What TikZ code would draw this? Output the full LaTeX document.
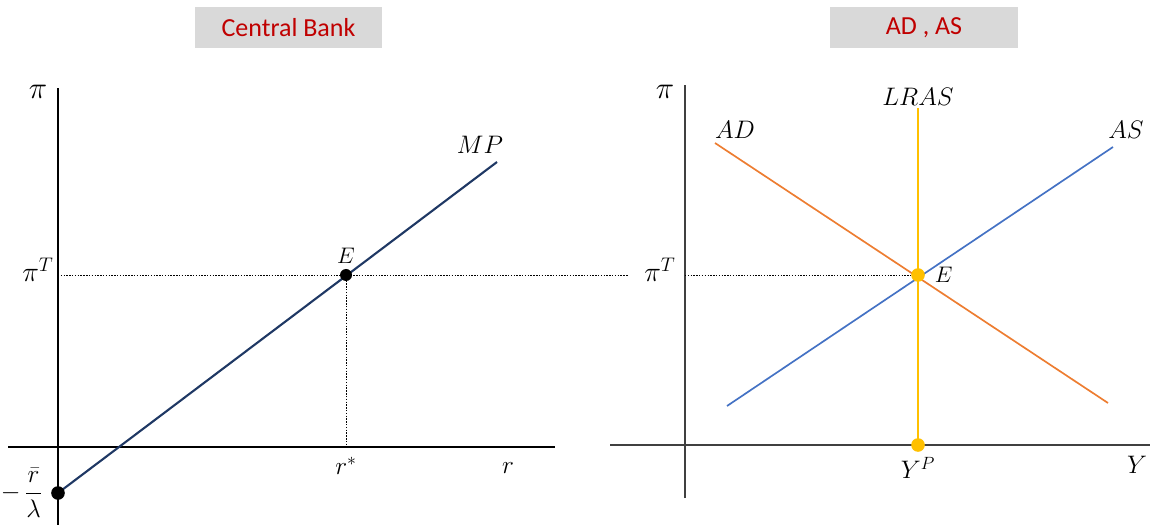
\documentclass[tikz,border=0pt]{standalone}
\usepackage{fix-cm}
\usepackage{amsmath}
\usepackage{fontspec}
\setsansfont{Carlito}
\usetikzlibrary{positioning}

\definecolor{mpnavy}{HTML}{1F3864}
\definecolor{adorange}{HTML}{ED7D31}
\definecolor{asblue}{HTML}{4472C4}
\definecolor{lrasgold}{HTML}{FFC000}
\definecolor{titlered}{HTML}{C00000}
\definecolor{titlegray}{HTML}{D9D9D9}
\definecolor{axisgray}{HTML}{404040}

\tikzset{
  titlebox/.style={fill=titlegray, text=titlered, minimum width=4.675cm, minimum height=1.025cm,
    font=\sffamily\fontsize{18.5}{21}\selectfont},
  lbl/.style={font=\fontsize{18}{21}\selectfont},
  small lbl/.style={font=\fontsize{16}{18}\selectfont},
  bigdot/.style={circle, fill=#1, inner sep=0pt, minimum size=0.34cm},
  guide/.style={dash pattern=on 1pt off 1pt, line width=0.7pt}
}

\begin{document}
\begin{tikzpicture}[x=0.025cm, y=-0.025cm, >=stealth, thick]
    \useasboundingbox (0,0) rectangle (1153,525);

    % Titles
    \node[titlebox] (tcb) at (288.5,27.5) {Central Bank};
    \node[titlebox] (tad) at (924,27.5) {AD , AS};

    % Left panel: axes
    \coordinate (lyb) at (58,525);
    \coordinate (lyt) at (58,88);
    \coordinate (lxl) at (8,447);
    \coordinate (lxr) at (555,447);
    \draw[line width=1pt] (lyb) -- (lyt);
    \draw[line width=1pt] (lxl) -- (lxr);
    \node[lbl, font=\fontsize{22}{24}\selectfont] (pil) at (38,92) {$\pi$};
    \node[lbl] (rl) at (508,468) {$r$};

    % Left panel: MP line and equilibrium
    \coordinate (mps) at (58,493);
    \coordinate (mpe) at (497,162);
    \coordinate (el) at (346,275);
    \coordinate (piTl) at (58,275);
    \coordinate (piTr) at (628,275);
    \coordinate (rsx) at (346,447);
    \draw[guide] (piTl) -- (piTr);
    \draw[guide] (el) -- (rsx);
    \draw[mpnavy, line width=1.5pt] (mps) -- (mpe);
    \node[bigdot=black] (dint) at (mps) {};
    \node[bigdot=black, minimum size=0.3cm] (dE) at (el) {};
    \node[small lbl, above=0pt of dE] (eLbl) {$E$};
    \node[lbl] (mpLbl) at (480,145) {$MP$};
    \node[lbl, font=\fontsize{20}{22}\selectfont] (piTlbl) at (38,270) {$\pi^T$};
    \node[lbl] (rstar) at (346,466) {$r^*$};
    \node[lbl, left=2pt of dint] (icpt) {$-\,\dfrac{\bar r}{\lambda}$};

    % Right panel: axes
    \coordinate (ryb) at (685,498);
    \coordinate (ryt) at (685,85);
    \coordinate (rxl) at (610,445);
    \coordinate (rxr) at (1150,445);
    \draw[axisgray, line width=1pt] (ryb) -- (ryt);
    \draw[axisgray, line width=1pt] (rxl) -- (rxr);
    \node[lbl, font=\fontsize{22}{24}\selectfont] (pir) at (665,92) {$\pi$};
    \node[lbl, font=\fontsize{20}{22}\selectfont] (piTrl) at (660,270) {$\pi^T$};
    \node[lbl] (ylbl) at (1137,465) {$Y$};

    % Right panel: curves
    \coordinate (adS) at (715,143);
    \coordinate (adE) at (1108,403);
    \coordinate (asS) at (727,406);
    \coordinate (asE) at (1113,147);
    \coordinate (lrT) at (918,108);
    \coordinate (lrB) at (918,445);
    \coordinate (er) at (918,275);
    \coordinate (piTa) at (685,275);
    \draw[guide] (piTa) -- (er);
    \draw[adorange, line width=1.2pt] (adS) -- (adE);
    \draw[asblue, line width=1.2pt] (asS) -- (asE);
    \draw[lrasgold, line width=1.5pt] (lrT) -- (lrB);
    \node[bigdot=lrasgold] (dEr) at (er) {};
    \node[bigdot=lrasgold] (dYp) at (lrB) {};
    \node[small lbl, right=3pt of dEr] (eRlbl) {$E$};
    \node[lbl, below=0pt of dYp] (ypLbl) {$Y^P$};
    \node[lbl] (lrasLbl) at (918,97) {$LRAS$};
    \node[lbl] (adLbl) at (735,130) {$AD$};
    \node[lbl] (asLbl) at (1126,130) {$AS$};
\end{tikzpicture}
\end{document}
